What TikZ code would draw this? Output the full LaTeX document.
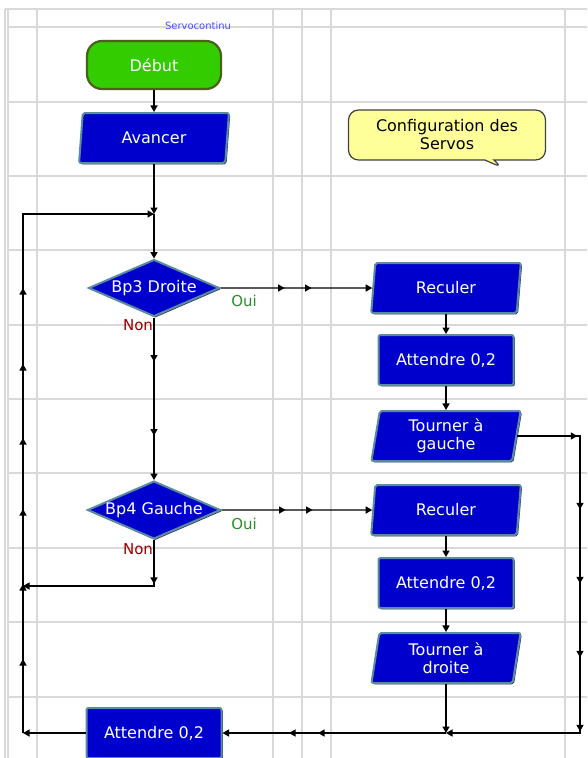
\documentclass[tikz,border=0pt]{standalone}
\usepackage{fontspec}
\setmainfont{DejaVu Sans}
\usepackage{tikz}
\usetikzlibrary{
  arrows.meta,
  decorations.markings,
  shadows,
  shapes.callouts,
  shapes.geometric
}
\tikzset{
  >={Triangle[length=6.5pt,width=7pt]},
  box text/.style={font=\fontsize{16}{18}\selectfont,align=center,text=white},
  answer/.style={font=\fontsize{15}{17}\selectfont},
  flow/.style={->,line width=1.3pt,draw=black},
  arrow at/.style={postaction={decorate,decoration={markings,
    mark=at position #1 with {\arrow[fill=black,draw=black]{>}}}}},
  gridline/.style={draw=gridgray,line width=1.4pt},
  bevel/.style={drop shadow={shadow xshift=1.3pt,shadow yshift=-1.3pt,
    fill=boxshade,opacity=1}},
  startbox/.style={rectangle,rounded corners=15pt,fill=startgreen,draw=startedge,
    line width=2.2pt,minimum width=134pt,minimum height=48pt,box text},
  action/.style={trapezium,trapezium left angle=82,trapezium right angle=98,
    trapezium stretches=true,fill=boxblue,draw=boxedge,line width=2pt,
    rounded corners=2pt,minimum width=150pt,minimum height=50pt,inner sep=0pt,
    bevel,box text},
  pausebox/.style={rectangle,fill=boxblue,draw=boxedge,line width=2pt,
    rounded corners=2pt,minimum width=135pt,minimum height=50pt,bevel,box text},
  decision/.style={diamond,aspect=2.3,fill=boxblue,draw=boxedge,line width=2pt,
    minimum width=131pt,minimum height=57pt,inner sep=0pt,bevel,box text},
  note/.style={rectangle callout,rounded corners=10pt,fill=notefill,draw=noteedge,
    line width=1.2pt,minimum width=197pt,minimum height=50pt,
    callout pointer width=9pt,font=\fontsize{16}{18}\selectfont,align=center}
}
\definecolor{boxblue}{HTML}{0000CC}
\definecolor{boxedge}{HTML}{5A8CA0}
\definecolor{boxshade}{HTML}{303068}
\definecolor{startgreen}{HTML}{33CC00}
\definecolor{startedge}{HTML}{4E5E1C}
\definecolor{notefill}{HTML}{FFFF99}
\definecolor{noteedge}{HTML}{404040}
\definecolor{gridgray}{HTML}{D9D9D9}
\definecolor{yesgreen}{HTML}{2E8B2E}
\definecolor{nored}{HTML}{990000}
\definecolor{titleblue}{HTML}{4D4DFF}

\begin{document}
\begin{tikzpicture}[x=1pt,y=-1pt]
  \useasboundingbox (0,0) rectangle (587,758);
  \fill[white] (0,0) rectangle (587,758);

  % sheet grid
  \draw[gridline]
    (5,9) -- (587,9) (7,27) -- (587,27) (7,102) -- (587,102)
    (7,176) -- (587,176) (7,250) -- (587,250) (7,325) -- (587,325)
    (7,399) -- (587,399) (7,473) -- (587,473) (7,548) -- (587,548)
    (7,622) -- (587,622) (7,697) -- (587,697)
    (5,9) -- (5,758) (8,9) -- (8,758) (37,9) -- (37,758) (273,9) -- (273,758)
    (302,9) -- (302,758) (331,9) -- (331,758) (565,9) -- (565,758);

  \node[font=\fontsize{10}{12}\selectfont,text=titleblue] (title) at (198,26)
    {Servocontinu};

  \node[startbox] (debut) at (154,65) {Début};
  \node[action] (avancer) at (154,138) {Avancer};
  \node[note,callout absolute pointer={(503,168)}] (config) at (447,135)
    {Configuration des\\Servos};

  \node[decision] (bp3) at (154,288) {Bp3 Droite};
  \node[decision] (bp4) at (154,510) {Bp4 Gauche};
  \node[pausebox] (wait3) at (154,733) {Attendre 0,2};

  \node[action] (reculerA) at (446,288) {Reculer};
  \node[pausebox] (attendreA) at (446,360) {Attendre 0,2};
  \node[action] (tournerA) at (446,436) {Tourner à\\gauche};
  \node[action] (reculerB) at (446,510) {Reculer};
  \node[pausebox] (attendreB) at (446,583) {Attendre 0,2};
  \node[action] (tournerB) at (446,658) {Tourner à\\droite};

  \node[answer,text=yesgreen] (oui3) at (244,301) {Oui};
  \node[answer,text=nored] (non3) at (138,325) {Non};
  \node[answer,text=yesgreen] (oui4) at (244,524) {Oui};
  \node[answer,text=nored] (non4) at (138,549) {Non};

  \coordinate (topjoin) at (154,214);
  \coordinate (cornerTL) at (23,214);
  \coordinate (cornerBL) at (23,733);
  \coordinate (leftjoin) at (23,586);
  \coordinate (rightBot) at (580,733);
  \coordinate (botjoin) at (446,733);

  \draw[flow] (debut) -- (avancer);
  \draw[flow] (avancer) -- (topjoin);
  \draw[flow] (topjoin) -- (bp3);
  \draw[flow,arrow at=64pt,arrow at=91pt] (bp3) -- (reculerA);
  \draw[flow] (reculerA) -- (attendreA);
  \draw[flow] (attendreA) -- (tournerA);
  \draw[flow,arrow at=44pt,arrow at=118pt] (bp3) -- (bp4);
  \draw[flow,arrow at=64pt,arrow at=91pt] (bp4) -- (reculerB);
  \draw[flow] (reculerB) -- (attendreB);
  \draw[flow] (attendreB) -- (tournerB);
  \draw[flow,arrow at=44pt] (bp4) |- (leftjoin);

  % return paths
  \draw[flow,arrow at=60pt,arrow at=136pt,arrow at=210pt,arrow at=284pt,
    arrow at=358pt] (tournerA) -| (rightBot) -- (botjoin);
  \draw[flow] (tournerB) -- (botjoin);
  \draw[flow,arrow at=128pt,arrow at=157pt] (botjoin) -- (wait3);
  \draw[flow] (wait3) -- (cornerBL);
  \draw[flow,arrow at=74pt,arrow at=149pt,arrow at=224pt,arrow at=295pt,
    arrow at=369pt,arrow at=445pt] (cornerBL) -- (cornerTL) -- (topjoin);
\end{tikzpicture}
\end{document}
